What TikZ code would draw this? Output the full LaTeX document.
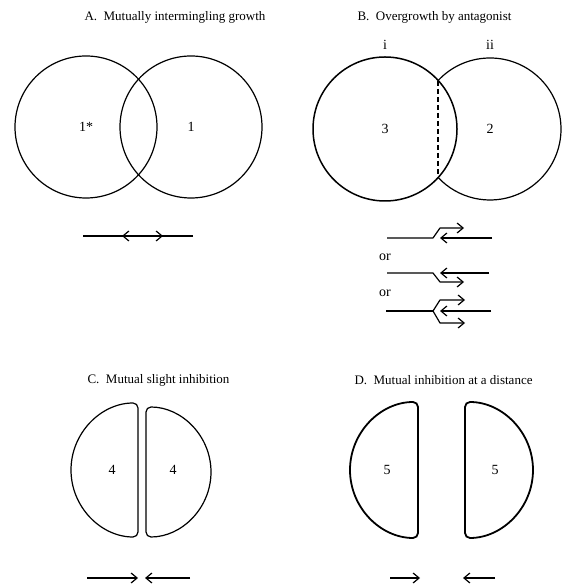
\documentclass[tikz,border=0pt]{standalone}
\usepackage{fontspec}
\setmainfont{Liberation Serif}
\usetikzlibrary{arrows.meta}

\begin{document}
\begin{tikzpicture}[x=1pt, y=1pt,
    rim/.style={line width=1.2pt},
    thickrim/.style={line width=1.8pt},
    front/.style={line width=1.2pt, line join=round, -{Straight Barb[length=6pt,width=10pt,line width=1.2pt]}},
    title/.style={anchor=west, font=\fontsize{13}{15}\selectfont},
    lbl/.style={font=\fontsize{14}{16}\selectfont}]
    \useasboundingbox (0,0) rectangle (575,588);

    % A: mutually intermingling growth
    \node[title] (titleA) at (81,571) {A.\ \ Mutually intermingling growth};
    \draw[rim] (86,461) circle[radius=71];
    \draw[rim] (191,461) circle[radius=71];
    \node[lbl] (colA1) at (86,461) {1*};
    \node[lbl] (colA2) at (191,461) {1};
    \draw[front] (83,352) -- (163,352);
    \draw[front] (193,352) -- (122,352);

    % B: overgrowth by antagonist
    \node[title] (titleB) at (354,571) {B.\ \ Overgrowth by antagonist};
    \draw[line width=1.5pt] (385,459) circle[radius=72];
    \draw[rim] (490,459) ++(137:71) arc[start angle=137, end angle=-137, radius=71];
    \draw[line width=1.3pt, dashed, dash pattern=on 5pt off 3pt] (438,507) -- (438,411);
    \node[lbl] (strainI) at (385,543) {i};
    \node[lbl] (strainII) at (490,543) {ii};
    \node[lbl] (colB1) at (385,459) {3};
    \node[lbl] (colB2) at (490,459) {2};

    % the three ways the front can move
    \draw[front] (387,350) -- (433,350) -- (440,360) -- (464,360);
    \draw[front] (492,350) -- (440,350);
    \node[lbl] (orA) at (385,331) {or};
    \draw[front] (387,315) -- (433,315) -- (440,306) -- (464,306);
    \draw[front] (489,315) -- (440,315);
    \node[lbl] (orB) at (385,295) {or};
    \draw[line width=1.2pt] (386,277) -- (433,277);
    \draw[front] (433,277) -- (440,288) -- (465,288);
    \draw[front] (433,277) -- (440,265) -- (465,265);
    \draw[front] (491,277) -- (440,277);

    % C: mutual slight inhibition
    \node[title] (titleC) at (84,208) {C.\ \ Mutual slight inhibition};
    \draw[rim, rounded corners=5pt] (138,118) -- (138,185) arc[start angle=90, end angle=270, radius=67] -- cycle;
    \draw[rim, rounded corners=5pt] (146,118) -- (146,51) arc[start angle=-90, end angle=90, radius=65] -- cycle;
    \node[lbl] (colC1) at (112,118) {4};
    \node[lbl] (colC2) at (173,118) {4};
    \draw[front] (87,10) -- (138,10);
    \draw[front] (190,10) -- (145,10);

    % D: mutual inhibition at a distance
    \node[title] (titleD) at (351,208) {D.\ \ Mutual inhibition at a distance};
    \draw[thickrim, rounded corners=5pt] (418,118) -- (418,186) arc[start angle=90, end angle=270, radius=68] -- cycle;
    \draw[thickrim, rounded corners=5pt] (465,118) -- (465,50) arc[start angle=-90, end angle=90, radius=68] -- cycle;
    \node[lbl] (colD1) at (387,118) {5};
    \node[lbl] (colD2) at (495,118) {5};
    \draw[front] (390,10) -- (420,10);
    \draw[front] (495,10) -- (463,10);
\end{tikzpicture}
\end{document}
